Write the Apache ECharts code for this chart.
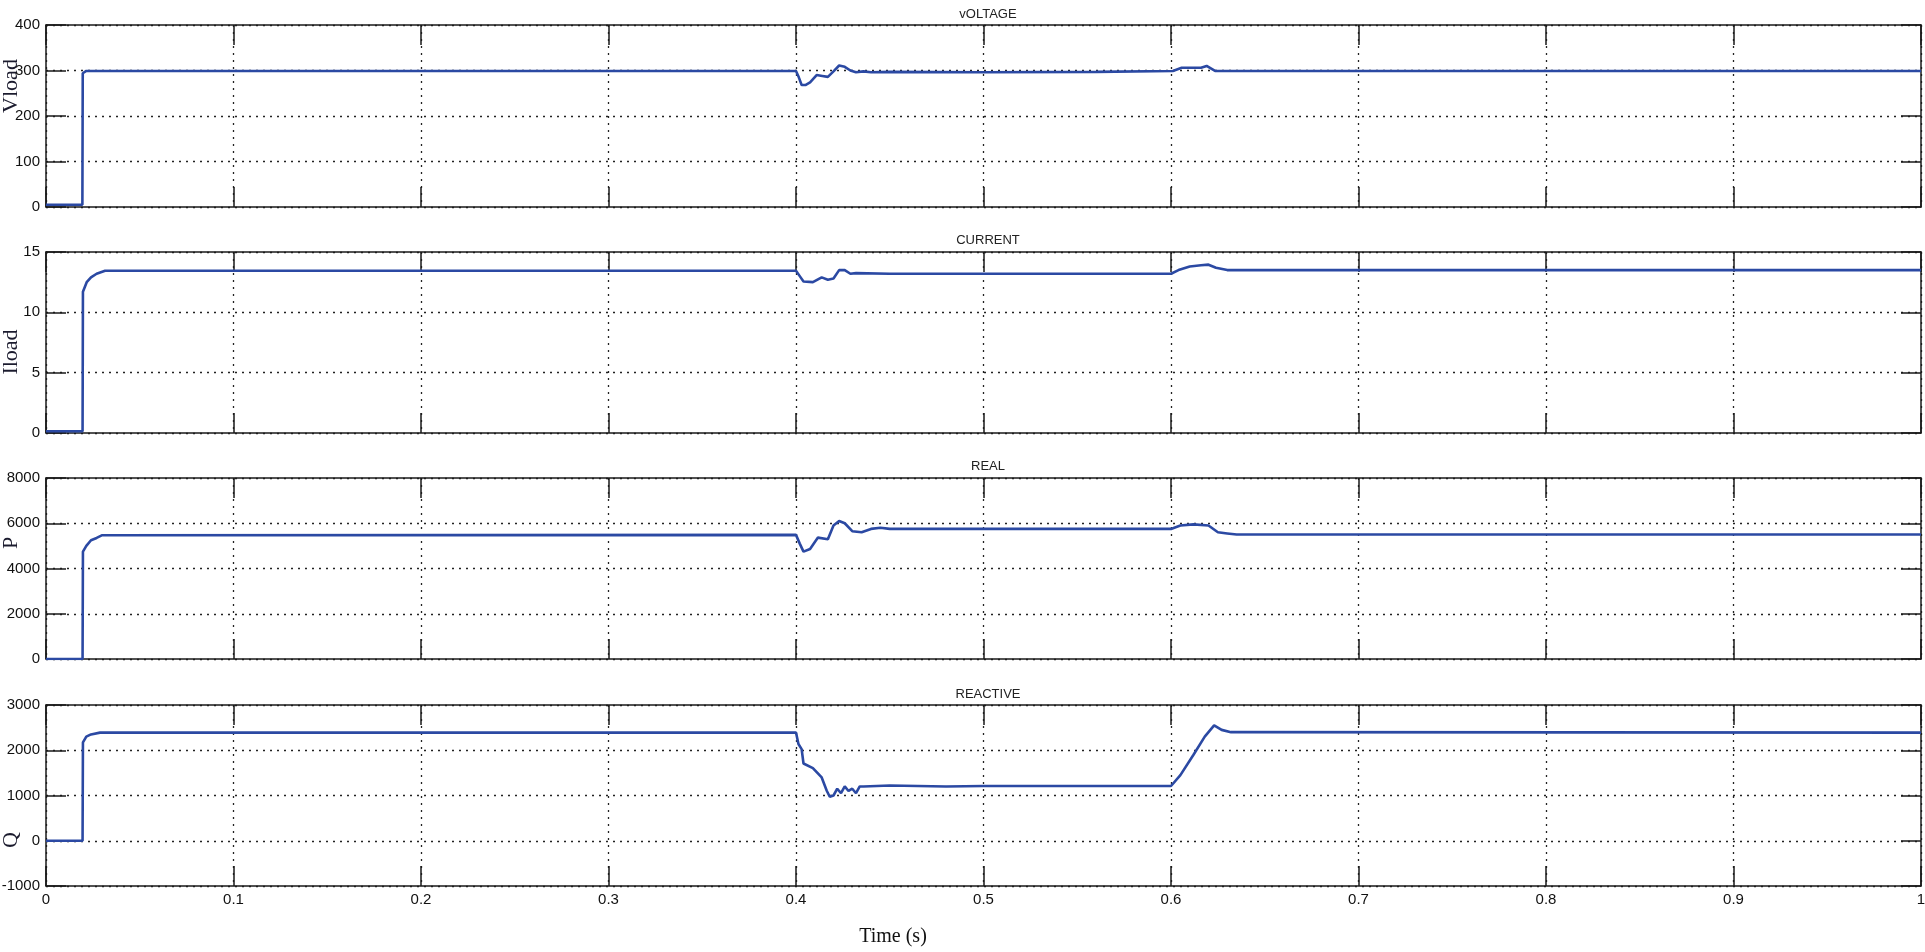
<!DOCTYPE html>
<html>
<head>
<meta charset="utf-8">
<script src="https://cdn.jsdelivr.net/npm/echarts@6/dist/echarts.min.js"></script>
<style>
html,body{margin:0;padding:0;background:#fff;}
#chart{width:1925px;height:952px;}
</style>
</head>
<body>
<div id="chart"></div>
<script>
// ---- DATA ----
const panelTitles = ['vOLTAGE', 'CURRENT', 'REAL', 'REACTIVE'];
const yNames = ['Vload', 'Iload', 'P', 'Q'];
const xTicksLabel = 'Time (s)';

const vTime = [0, 0.0194, 0.0196, 0.0200, 0.0215, 0.400, 0.4015, 0.403, 0.405, 0.4075, 0.411, 0.414, 0.417, 0.420, 0.423, 0.426, 0.429, 0.432, 0.436, 0.440, 0.450, 0.500, 0.560, 0.601, 0.6057, 0.616, 0.619, 0.6235, 1.0];
const vVal  = [5, 5, 294, 298, 299, 299, 285, 268, 268, 274, 290, 288, 286, 298, 311, 308, 300, 296, 298, 296, 297, 296, 297, 299, 306, 306, 310, 299, 299];

const iTime = [0, 0.0195, 0.0197, 0.0217, 0.0240, 0.0270, 0.0315, 0.400, 0.402, 0.404, 0.409, 0.4137, 0.417, 0.420, 0.423, 0.426, 0.429, 0.432, 0.450, 0.600, 0.604, 0.610, 0.616, 0.620, 0.624, 0.630, 1.0];
const iVal  = [0.15, 0.15, 11.7, 12.5, 12.9, 13.2, 13.45, 13.45, 13.0, 12.55, 12.5, 12.9, 12.7, 12.8, 13.5, 13.5, 13.2, 13.25, 13.2, 13.2, 13.5, 13.8, 13.9, 13.95, 13.7, 13.5, 13.5];

const pTime = [0, 0.0195, 0.0197, 0.0215, 0.024, 0.027, 0.030, 0.400, 0.402, 0.404, 0.4075, 0.4117, 0.417, 0.420, 0.423, 0.426, 0.430, 0.435, 0.440, 0.445, 0.450, 0.600, 0.605, 0.612, 0.620, 0.625, 0.630, 0.635, 1.0];
const pVal  = [0, 0, 4745, 5000, 5250, 5350, 5472, 5486, 5100, 4745, 4865, 5366, 5295, 5900, 6100, 6000, 5650, 5600, 5750, 5800, 5750, 5750, 5900, 5950, 5900, 5600, 5550, 5500, 5500];

const qTime = [0, 0.0195, 0.0197, 0.0215, 0.024, 0.0288, 0.400, 0.4013, 0.403, 0.404, 0.409, 0.4137, 0.4164, 0.418, 0.420, 0.422, 0.424, 0.426, 0.428, 0.430, 0.432, 0.434, 0.436, 0.450, 0.480, 0.500, 0.600, 0.605, 0.612, 0.618, 0.623, 0.627, 0.632, 1.0];
const qVal  = [0, 0, 2172, 2300, 2350, 2390, 2393, 2137, 2026, 1708, 1606, 1399, 1105, 972, 1000, 1150, 1050, 1200, 1100, 1150, 1050, 1200, 1200, 1220, 1200, 1210, 1210, 1450, 1900, 2300, 2550, 2450, 2400, 2390];

const yMins = [0, 0, 0, -1000];
const yMaxs = [400, 15, 8000, 3000];
const yIntervals = [100, 5, 2000, 1000];
const xTickInterval = 0.1;

// ---- LAYOUT ----
const plotLeft = 46, plotRight = 4;
const tops = [25, 252, 478, 705];
const heights = [182, 181, 181, 181];
const titleY = [3, 229, 455, 683];
const yNameY = [86, 352, 543, 840];

const seriesTimes = [vTime, iTime, pTime, qTime];
const seriesVals = [vVal, iVal, pVal, qVal];

const font = '"Liberation Sans", Arial, sans-serif';
const serif = '"Liberation Serif", "Times New Roman", serif';
const axisColor = '#1a1a1a';
const plain = v => String(Math.round(v * 1000) / 1000);

const grids = [], xAxes = [], yAxes = [], series = [], titles = [], graphics = [];
for (let i = 0; i < 4; i++) {
  grids.push({left: plotLeft, right: plotRight, top: tops[i], height: heights[i], containLabel: false, outerBoundsMode: 'none'});
  const isLast = i === 3;
  const tickStyle = {show: true, inside: true, length: 20, lineStyle: {color: axisColor, width: 1.5}};
  xAxes.push({
    gridIndex: i, type: 'value', min: 0, max: 1, interval: xTickInterval, position: 'bottom',
    axisLine: {show: true, onZero: false, lineStyle: {color: axisColor, width: 1.5}},
    axisTick: tickStyle,
    axisLabel: {show: isLast, color: '#111', fontFamily: font, fontSize: 15, margin: 6, formatter: plain},
    splitLine: {show: true, lineStyle: {color: '#222', width: 1.3, type: [2, 5]}}
  });
  xAxes.push({
    gridIndex: i, type: 'value', min: 0, max: 1, interval: xTickInterval, position: 'top',
    axisLine: {show: true, onZero: false, lineStyle: {color: axisColor, width: 1.5}},
    axisTick: tickStyle, axisLabel: {show: false}, splitLine: {show: false}
  });
  yAxes.push({
    gridIndex: i, type: 'value', min: yMins[i], max: yMaxs[i], interval: yIntervals[i], position: 'left',
    axisLine: {show: true, onZero: false, lineStyle: {color: axisColor, width: 1.5}},
    axisTick: tickStyle,
    axisLabel: {show: true, color: '#111', fontFamily: font, fontSize: 15, margin: 6, formatter: plain},
    splitLine: {show: true, lineStyle: {color: '#222', width: 1.3, type: [2, 5]}}
  });
  yAxes.push({
    gridIndex: i, type: 'value', min: yMins[i], max: yMaxs[i], interval: yIntervals[i], position: 'right',
    axisLine: {show: true, onZero: false, lineStyle: {color: axisColor, width: 1.5}},
    axisTick: tickStyle, axisLabel: {show: false}, splitLine: {show: false}
  });
  const data = seriesTimes[i].map((t, k) => [t, seriesVals[i][k]]);
  series.push({
    type: 'line', xAxisIndex: 2 * i, yAxisIndex: 2 * i, data: data,
    showSymbol: false, symbol: 'none', animation: false,
    lineStyle: {color: '#2b49a3', width: 2.6}
  });
  titles.push({
    text: panelTitles[i], left: 983, top: titleY[i], textAlign: 'center',
    textStyle: {fontFamily: font, fontSize: 13, fontWeight: 'normal', color: '#222'}
  });
  graphics.push({
    type: 'text', x: 11, y: yNameY[i], rotation: Math.PI / 2,
    style: {text: yNames[i], font: '22px ' + serif, fill: '#1b1b2e', textAlign: 'center', textVerticalAlign: 'middle'}
  });
}
graphics.push({
  type: 'text', x: 893, y: 937,
  style: {text: xTicksLabel, font: '20px ' + serif, fill: '#111', textAlign: 'center', textVerticalAlign: 'middle'}
});

const chart = echarts.init(document.getElementById('chart'), null, {renderer: 'canvas'});
chart.setOption({
  animation: false,
  backgroundColor: '#fff',
  title: titles,
  grid: grids,
  xAxis: xAxes,
  yAxis: yAxes,
  series: series,
  graphic: graphics
});
</script>
</body>
</html>
